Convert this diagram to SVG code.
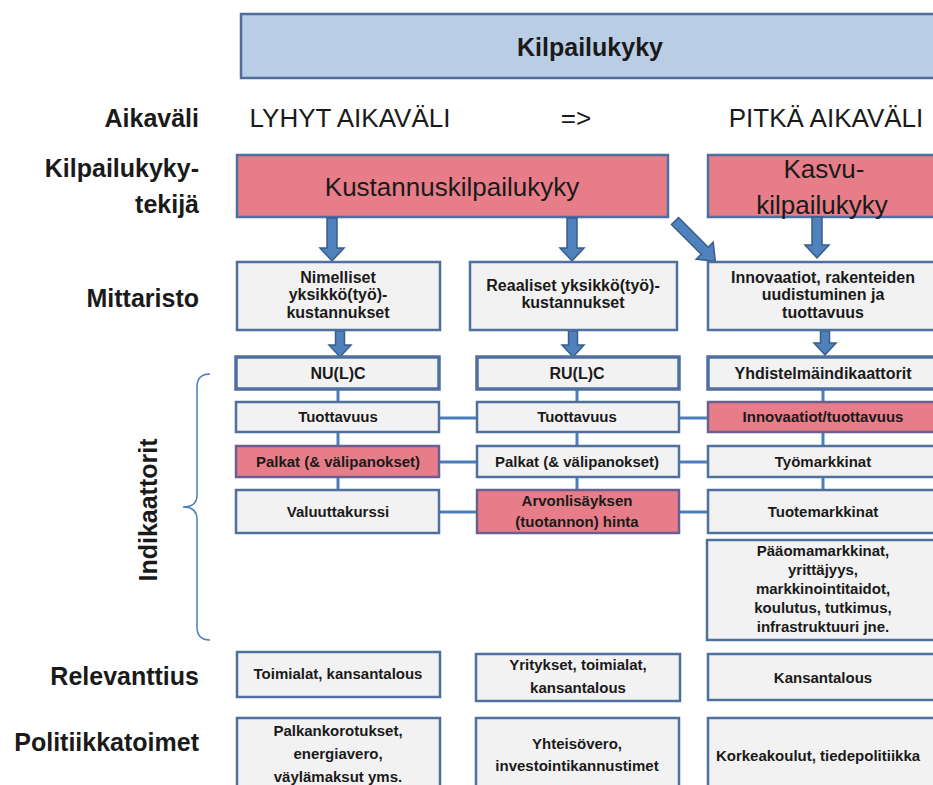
<svg xmlns="http://www.w3.org/2000/svg" width="933" height="785" viewBox="0 0 933 785">
<style>
text{font-family:"Liberation Sans",Arial,sans-serif;fill:#1a1a1a}
.lbl{font-size:25px;font-weight:bold;text-anchor:end}
.hdr{font-size:26px;text-anchor:middle}
.big{font-size:26px;text-anchor:middle}
.mt{font-size:16px;font-weight:bold;text-anchor:middle}
.sm{font-size:15px;font-weight:bold;text-anchor:middle}
.smb{font-size:16px;font-weight:bold;text-anchor:middle}
.box{fill:#f2f2f2;stroke:#4f6f9f;stroke-width:2.5}
.boxt{fill:#f2f2f2;stroke:#4f6f9f;stroke-width:3.5}
.red{fill:#e77d88;stroke:#4f6f9f;stroke-width:2.5}
.redi{fill:#e77d88;stroke:#6a5f91;stroke-width:2.5}
.con{stroke:#4a7ebb;stroke-width:3;fill:none}
.arr{fill:#4f81bd;stroke:#385d8a;stroke-width:1.5}
.brace{stroke:#4a7ebb;stroke-width:1.5;fill:none}
</style>

<g id="title">
<rect x="241" y="14" width="710" height="64" fill="#b9cde5" stroke="#4f6d9a" stroke-width="2.5"/>
<text x="590" y="56" style="font-size:25px;font-weight:bold;text-anchor:middle">Kilpailukyky</text>
</g>

<g id="row-labels">
<text class="lbl" x="199" y="127">Aikaväli</text>
<text class="lbl" x="199" y="177">Kilpailukyky-</text>
<text class="lbl" x="199" y="213">tekijä</text>
<text class="lbl" x="199" y="307">Mittaristo</text>
<text class="lbl" x="199" y="685">Relevanttius</text>
<text class="lbl" x="199" y="751">Politiikkatoimet</text>
<text x="157" y="510" transform="rotate(-90 157 510)" style="font-size:25px;font-weight:bold;text-anchor:middle">Indikaattorit</text>
</g>

<g id="headers">
<text class="hdr" x="350" y="127">LYHYT AIKAVÄLI</text>
<text class="hdr" x="576" y="127">=&gt;</text>
<text class="hdr" x="826" y="127">PITKÄ AIKAVÄLI</text>
</g>

<g id="kustannus">
<rect class="red" x="237" y="155" width="431" height="62"/>
<text class="big" x="452" y="196">Kustannuskilpailukyky</text>
</g>
<g id="kasvu">
<rect class="red" x="708" y="155" width="240" height="62"/>
<text class="big" x="824" y="178">Kasvu-</text>
<text class="big" x="822" y="214">kilpailukyky</text>
</g>

<g id="connectors">
<line class="con" x1="338" y1="389" x2="338" y2="402"/>
<line class="con" x1="338" y1="432" x2="338" y2="446"/>
<line class="con" x1="338" y1="477" x2="338" y2="490"/>
<line class="con" x1="577" y1="389" x2="577" y2="402"/>
<line class="con" x1="577" y1="432" x2="577" y2="446"/>
<line class="con" x1="577" y1="477" x2="577" y2="490"/>
<line class="con" x1="823" y1="389" x2="823" y2="402"/>
<line class="con" x1="823" y1="432" x2="823" y2="446"/>
<line class="con" x1="823" y1="477" x2="823" y2="490"/>
<line class="con" x1="439" y1="418" x2="477" y2="418"/>
<line class="con" x1="679" y1="418" x2="708" y2="418"/>
<line class="con" x1="439" y1="462" x2="477" y2="462"/>
<line class="con" x1="679" y1="462" x2="708" y2="462"/>
<line class="con" x1="439" y1="512" x2="477" y2="512"/>
<line class="con" x1="679" y1="512" x2="708" y2="512"/>
<polygon class="arr" points="327,218 337,218 337,248 344,248 332,261 320,248 327,248"/>
<polygon class="arr" points="567,218 577,218 577,248 584,248 572,261 560,248 567,248"/>
<polygon class="arr" points="812,217 822,217 822,245 829,245 817,258 805,245 812,245"/>
<polygon class="arr" points="0,-5 42,-5 42,-12 57,0 42,12 42,5 0,5" transform="translate(675 221) rotate(45)"/>
<polygon class="arr" points="335.5,331 344.5,331 344.5,345 351,345 340,357 329,345 335.5,345"/>
<polygon class="arr" points="568.5,331 577.5,331 577.5,345 584,345 573,357 562,345 568.5,345"/>
<polygon class="arr" points="820.5,331 829.5,331 829.5,343 836,343 825,355 814,343 820.5,343"/>
</g>

<path id="brace" class="brace" d="M210 374 Q197 374 197 387 L197 495 Q197 507 183 507 Q197 507 197 519 L197 627 Q197 640 210 640"/>

<g id="m-nimelliset">
<rect class="box" x="237" y="262" width="203" height="68"/>
<text class="mt" x="338" y="283">Nimelliset</text>
<text class="mt" x="338" y="300">yksikkö(työ)-</text>
<text class="mt" x="338" y="318">kustannukset</text>
</g>
<g id="m-reaaliset">
<rect class="box" x="470" y="262" width="207" height="68"/>
<text class="mt" x="573" y="291">Reaaliset yksikkö(työ)-</text>
<text class="mt" x="573" y="308">kustannukset</text>
</g>
<g id="m-innovaatiot">
<rect class="box" x="708" y="262" width="240" height="68"/>
<text class="mt" x="823" y="283">Innovaatiot, rakenteiden</text>
<text class="mt" x="823" y="300">uudistuminen ja</text>
<text class="mt" x="823" y="318">tuottavuus</text>
</g>

<g id="i-nulc">
<rect class="boxt" x="236" y="357" width="203" height="32"/>
<text class="smb" x="338" y="379">NU(L)C</text>
</g>
<g id="i-rulc">
<rect class="boxt" x="477" y="357" width="202" height="32"/>
<text class="smb" x="577" y="379">RU(L)C</text>
</g>
<g id="i-yhdistelma">
<rect class="boxt" x="708" y="357" width="240" height="32"/>
<text class="smb" x="823" y="379">Yhdistelmäindikaattorit</text>
</g>

<g id="i-tuottavuus1">
<rect class="box" x="236" y="402" width="203" height="30"/>
<text class="sm" x="338" y="422">Tuottavuus</text>
</g>
<g id="i-tuottavuus2">
<rect class="box" x="477" y="402" width="202" height="30"/>
<text class="sm" x="577" y="422">Tuottavuus</text>
</g>
<g id="i-innovaatiot">
<rect class="redi" x="708" y="402" width="240" height="30"/>
<text class="sm" x="823" y="422">Innovaatiot/tuottavuus</text>
</g>

<g id="i-palkat1">
<rect class="redi" x="236" y="446" width="203" height="31"/>
<text class="sm" x="338" y="467">Palkat (&amp; välipanokset)</text>
</g>
<g id="i-palkat2">
<rect class="box" x="477" y="446" width="202" height="31"/>
<text class="sm" x="577" y="467">Palkat (&amp; välipanokset)</text>
</g>
<g id="i-tyomarkkinat">
<rect class="box" x="708" y="446" width="240" height="31"/>
<text class="sm" x="823" y="467">Työmarkkinat</text>
</g>

<g id="i-valuuttakurssi">
<rect class="box" x="236" y="490" width="203" height="43"/>
<text class="sm" x="338" y="517">Valuuttakurssi</text>
</g>
<g id="i-arvonlisays">
<rect class="redi" x="477" y="490" width="202" height="43"/>
<text class="sm" x="577" y="506">Arvonlisäyksen</text>
<text class="sm" x="577" y="527">(tuotannon) hinta</text>
</g>
<g id="i-tuotemarkkinat">
<rect class="box" x="708" y="490" width="240" height="43"/>
<text class="sm" x="823" y="517">Tuotemarkkinat</text>
</g>

<g id="i-paaoma">
<rect class="box" x="707" y="540" width="241" height="100"/>
<text class="sm" x="823" y="556">Pääomamarkkinat,</text>
<text class="sm" x="823" y="575">yrittäjyys,</text>
<text class="sm" x="823" y="594">markkinointitaidot,</text>
<text class="sm" x="823" y="613">koulutus, tutkimus,</text>
<text class="sm" x="823" y="632">infrastruktuuri jne.</text>
</g>

<g id="r-1">
<rect class="box" x="237" y="652" width="203" height="45"/>
<text class="sm" x="338" y="679">Toimialat, kansantalous</text>
</g>
<g id="r-2">
<rect class="box" x="476" y="654" width="204" height="47"/>
<text class="sm" x="578" y="670">Yritykset, toimialat,</text>
<text class="sm" x="578" y="693">kansantalous</text>
</g>
<g id="r-3">
<rect class="box" x="708" y="654" width="240" height="46"/>
<text class="sm" x="823" y="683">Kansantalous</text>
</g>

<g id="p-1">
<rect class="box" x="237" y="718" width="203" height="90"/>
<text class="sm" x="338" y="736">Palkankorotukset,</text>
<text class="sm" x="338" y="759">energiavero,</text>
<text class="sm" x="338" y="782">väylämaksut yms.</text>
</g>
<g id="p-2">
<rect class="box" x="476" y="718" width="203" height="90"/>
<text class="sm" x="577" y="749">Yhteisövero,</text>
<text class="sm" x="577" y="771">investointikannustimet</text>
</g>
<g id="p-3">
<rect class="box" x="708" y="718" width="240" height="90"/>
<text class="sm" x="818" y="761">Korkeakoulut, tiedepolitiikka</text>
</g>
</svg>
